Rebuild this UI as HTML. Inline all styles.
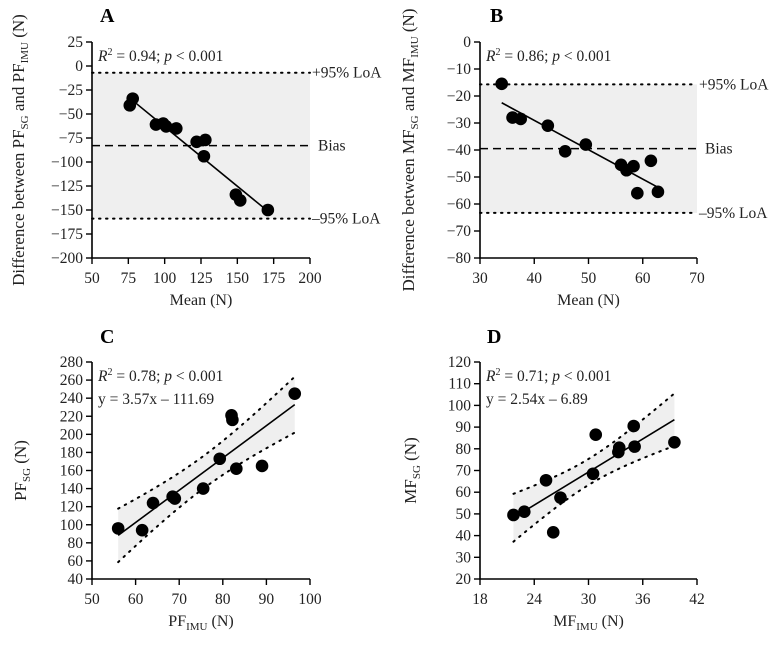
<!DOCTYPE html>
<html><head><meta charset="utf-8"><style>
body{margin:0;background:#fff;}
svg{display:block;font-family:"Liberation Serif",serif;}
</style></head><body>
<svg id="fig" width="778" height="649" viewBox="0 0 778 649"></svg>
<script>
// Panel A data
const aMeans=[76,78,94,99,101,108,122,128,127,149,152,171];
const aDiffs=[-41,-34,-61,-60,-63,-65,-79,-77,-94,-134,-140,-150];
const aStats=[-7,-83,-159]; // +LoA, bias, -LoA
const aLine=[[78,-36],[170,-150]];
const aXTicks=[50,75,100,125,150,175,200];
const aYTicks=[25,0,-25,-50,-75,-100,-125,-150,-175,-200];
// Panel B data
const bMeans=[34,36,37.5,42.5,45.7,49.5,56,57,58.3,59,61.5,62.8];
const bDiffs=[-15.5,-28,-28.5,-31,-40.5,-38,-45.5,-47.5,-46,-56,-44,-55.5];
const bStats=[-15.7,-39.5,-63.3];
const bLine=[[34,-22.5],[62.5,-53.5]];
const bXTicks=[30,40,50,60,70];
const bYTicks=[0,-10,-20,-30,-40,-50,-60,-70,-80];
// Panel C data
const cX=[56,61.5,64,68.5,69,75.5,79.3,82,82.2,83.1,89,96.5];
const cY=[96,94,124,131,129,140,173,221,216,162,165,245];
const cFit=[3.57,-111.69];
const cXTicks=[50,60,70,80,90,100];
const cYTicks=[280,260,240,220,200,180,160,140,120,100,80,60,40];
// Panel D data
const dX=[21.7,22.9,25.3,26.1,26.9,30.5,30.8,33.3,33.4,35,35.1,39.5];
const dY=[49.5,51,65.5,41.5,57.5,68.5,86.5,78.5,80.5,90.5,81,83];
const dFit=[2.54,-6.89];
const dXTicks=[18,24,30,36,42];
const dYTicks=[120,110,100,90,80,70,60,50,40,30,20];

const NS="http://www.w3.org/2000/svg";
const svg=document.getElementById('fig');
function el(t,a,p){const e=document.createElementNS(NS,t);for(const k in a)e.setAttribute(k,a[k]);(p||svg).appendChild(e);return e;}
function txt(s,a,p){const e=el('text',a,p);e.innerHTML=s;return e;}

function panel(o){
  const g=el('g',{});
  
  
  const sx=v=>o.x0+(v-o.xmin)/(o.xmax-o.xmin)*(o.x1-o.x0);
  const sy=v=>o.y1-(v-o.ymin)/(o.ymax-o.ymin)*(o.y1-o.y0);
  o.draw(g,sx,sy);
  const ax=el('path',{d:`M${o.x0} ${o.y0}V${o.y1}H${sx(o.xmax)}`,stroke:'#000','stroke-width':1.6,fill:'none'},g);
  
  
  o.xt.forEach(v=>{el('line',{x1:sx(v),x2:sx(v),y1:o.y1,y2:o.y1+6,stroke:'#000','stroke-width':1.4},g);
    const t=txt(v,{x:sx(v),y:o.y1+25,'text-anchor':'middle','font-size':15.5,fill:'#222'},g);
    
    });
  o.yt.forEach(v=>{el('line',{x1:o.x0-6,x2:o.x0,y1:sy(v),y2:sy(v),stroke:'#000','stroke-width':1.4},g);
    const t=txt(String(v).replace('-','\u2212'),{x:o.x0-9,y:sy(v)+5,'text-anchor':'end','font-size':15.5,fill:'#222'},g);
    
    });
  const L=txt(o.letter,{x:o.lx,y:o.ly,'font-size':20,'font-weight':'bold'},g);
  
  
  const xt=txt(o.xlab,{x:(o.x0+sx(o.xmax))/2,y:o.y1+47,'text-anchor':'middle','font-size':16,fill:'#222'},g);
  
  
  const yt=txt(o.ylab,{x:0,y:0,'text-anchor':'middle','font-size':17,fill:'#222',transform:`translate(${o.ylx},${(o.y0+o.y1)/2}) rotate(-90)`},g);
  
  
  o.notes.forEach((n,i)=>{const t=txt(n,{x:o.x0+6,y:o.y0+19+i*23,'font-size':15.5,fill:'#222'},g);
    
    });
}
function dots(g,xs,ys,sx,sy){xs.forEach((v,i)=>{const c=el('circle',{cx:sx(v),cy:sy(ys[i]),r:6.3,fill:'#000'},g);
  
  });}
function blandDraw(o,stats,line,xs,ys){
  return (g,sx,sy)=>{
    const xa=o.x0, xb=sx(o.xmax);
    const r=el('rect',{x:xa,y:sy(stats[0]),width:xb-xa,height:sy(stats[2])-sy(stats[0]),fill:'#efefef'},g);
    
    
    const names=['upper-loa-line','bias-line','lower-loa-line'];
    const labs=['+95% LoA','Bias','\u201395% LoA'];
    stats.forEach((s,i)=>{
      const l=el('line',{x1:xa,x2:xb,y1:sy(s),y2:sy(s),stroke:'#000','stroke-width':i==1?1.5:2,'stroke-dasharray':i==1?'8,5':'1.5,5.5','stroke-linecap':i==1?'butt':'round'},g);
      
      
      const t=txt(labs[i],{x:xb+(i==1?8:2),y:sy(s)+5,'font-size':15.5,fill:'#222'},g);
      
      
    });
    const f=el('line',{x1:sx(line[0][0]),y1:sy(line[0][1]),x2:sx(line[1][0]),y2:sy(line[1][1]),stroke:'#000','stroke-width':1.6},g);
    
    
    dots(g,xs,ys,sx,sy);
  };
}
function regDraw(xs,ys,fit,a,b){
  return (g,sx,sy)=>{
    const lo=Math.min(...xs),hi=Math.max(...xs),m=xs.reduce((p,c)=>p+c,0)/xs.length;
    const up=[],dn=[];
    for(let i=0;i<=40;i++){const x=lo+(hi-lo)*i/40;const yc=fit[0]*x+fit[1];const h=Math.sqrt(a+b*(x-m)*(x-m));
      up.push([sx(x),sy(yc+h)]);dn.push([sx(x),sy(yc-h)]);}
    const band=el('path',{d:'M'+up.map(p=>p.join(' ')).join('L')+'L'+dn.slice().reverse().map(p=>p.join(' ')).join('L')+'Z',fill:'#efefef'},g);
    
    
    [up,dn].forEach((arr,k)=>{const p=el('path',{d:'M'+arr.map(q=>q.join(' ')).join('L'),fill:'none',stroke:'#000','stroke-width':2,'stroke-dasharray':'1.5,6','stroke-linecap':'round'},g);
      
      });
    const f=el('line',{x1:sx(lo),y1:sy(fit[0]*lo+fit[1]),x2:sx(hi),y2:sy(fit[0]*hi+fit[1]),stroke:'#000','stroke-width':1.6},g);
    
    
    dots(g,xs,ys,sx,sy);
  };
}
const A={name:'panel-a',x0:92,x1:310,y0:42,y1:258,xmin:50,xmax:200,ymin:-200,ymax:25,xt:aXTicks,yt:aYTicks,letter:'A',lx:100,ly:22,
  xlab:'Mean (N)',ylab:'Difference between PF<tspan font-size="11" dy="4">SG</tspan><tspan dy="-4"> and PF</tspan><tspan font-size="11" dy="4">IMU</tspan><tspan dy="-4"> (N)</tspan>',ylx:24,
  notes:['<tspan font-style="italic">R</tspan><tspan font-size="10" dy="-6">2</tspan><tspan dy="6"> = 0.94; </tspan><tspan font-style="italic">p</tspan> &lt; 0.001']};
A.draw=blandDraw(A,aStats,aLine,aMeans,aDiffs);panel(A);
const B={name:'panel-b',x0:480,x1:697,y0:42,y1:258,xmin:30,xmax:70,ymin:-80,ymax:0,xt:bXTicks,yt:bYTicks,letter:'B',lx:490,ly:22,
  xlab:'Mean (N)',ylab:'Difference between MF<tspan font-size="11" dy="4">SG</tspan><tspan dy="-4"> and MF</tspan><tspan font-size="11" dy="4">IMU</tspan><tspan dy="-4"> (N)</tspan>',ylx:414,
  notes:['<tspan font-style="italic">R</tspan><tspan font-size="10" dy="-6">2</tspan><tspan dy="6"> = 0.86; </tspan><tspan font-style="italic">p</tspan> &lt; 0.001']};
B.draw=blandDraw(B,bStats,bLine,bMeans,bDiffs);panel(B);
const C={name:'panel-c',x0:92,x1:310,y0:362,y1:579,xmin:50,xmax:100,ymin:40,ymax:280,xt:cXTicks,yt:cYTicks,letter:'C',lx:100,ly:343,
  xlab:'PF<tspan font-size="11" dy="4">IMU</tspan><tspan dy="-4"> (N)</tspan>',ylab:'PF<tspan font-size="11" dy="4">SG</tspan><tspan dy="-4"> (N)</tspan>',ylx:26,
  notes:['<tspan font-style="italic">R</tspan><tspan font-size="10" dy="-6">2</tspan><tspan dy="6"> = 0.78; </tspan><tspan font-style="italic">p</tspan> &lt; 0.001','y = 3.57x – 111.69']};
C.draw=regDraw(cX,cY,cFit,324,1.44);panel(C);
const D={name:'panel-d',x0:480,x1:697,y0:362,y1:579,xmin:18,xmax:42,ymin:20,ymax:120,xt:dXTicks,yt:dYTicks,letter:'D',lx:487,ly:343,
  xlab:'MF<tspan font-size="11" dy="4">IMU</tspan><tspan dy="-4"> (N)</tspan>',ylab:'MF<tspan font-size="11" dy="4">SG</tspan><tspan dy="-4"> (N)</tspan>',ylx:416,
  notes:['<tspan font-style="italic">R</tspan><tspan font-size="10" dy="-6">2</tspan><tspan dy="6"> = 0.71; </tspan><tspan font-style="italic">p</tspan> &lt; 0.001','y = 2.54x – 6.89']};
D.draw=regDraw(dX,dY,dFit,36,1.23);panel(D);
</script>
</body></html>
